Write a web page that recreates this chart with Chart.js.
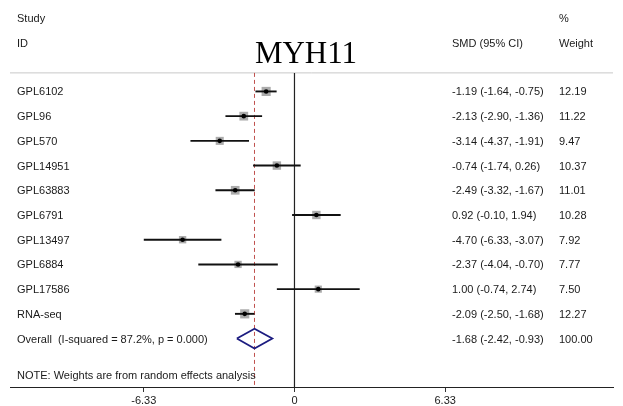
<!DOCTYPE html>
<html><head><meta charset="utf-8">
<script src="https://cdn.jsdelivr.net/npm/chart.js@4.4.0/dist/chart.umd.min.js"></script>
<style>html,body{margin:0;padding:0;background:#fff;} #wrap{width:623px;height:406px;position:relative;}</style>
</head><body><div id="wrap"><canvas id="c" width="623" height="406"></canvas></div>
<script>
// ---- data ----
const studies = ['GPL6102','GPL96','GPL570','GPL14951','GPL63883','GPL6791','GPL13497','GPL6884','GPL17586','RNA-seq'];
const smd     = [-1.19, -2.13, -3.14, -0.74, -2.49, 0.92, -4.70, -2.37, 1.00, -2.09];
const ciLower = [-1.64, -2.90, -4.37, -1.74, -3.32, -0.10, -6.33, -4.04, -0.74, -2.50];
const ciUpper = [-0.75, -1.36, -1.91, 0.26, -1.67, 1.94, -3.07, -0.70, 2.74, -1.68];
const weights = [12.19, 11.22, 9.47, 10.37, 11.01, 10.28, 7.92, 7.77, 7.50, 12.27];
const overallLabel = 'Overall  (I-squared = 87.2%, p = 0.000)';
const overallSMD = [-1.68];
const overallLower = [-2.42];
const overallUpper = [-0.93];
const overallWeight = [100.00];
const xTicks = [-6.33, 0, 6.33];
const xTickLabels = ['-6.33', '0', '6.33'];
const titleText = 'MYH11';
const headerLeft = ['Study', 'ID'];
const headerMid = ['', 'SMD (95% CI)'];
const headerRight = ['%', 'Weight'];
const noteText = 'NOTE: Weights are from random effects analysis';

// ---- layout (rows in y-scale units) ----
const Y_MIN = -3.70, Y_MAX = 11.96;
const X_MIN = -11.95, X_MAX = 13.38;
const ROW_HEADER = [-2.97, -1.98];
const ROW_SEP = -0.75;
const ROW_OVERALL = studies.length;
const ROW_NOTE = 11.48;
const FONT = '"Liberation Sans", Arial, sans-serif';
const TXT = '#1a1a1a';

const fmt = v => v.toFixed(2);

const datasets = [];
// center dots (top-most)
datasets.push({
  data: smd.map((v, i) => ({x: v, y: i})),
  pointStyle: 'circle', pointRadius: 2.3, pointBackgroundColor: '#000', pointBorderWidth: 0, showLine: false
});
// CI lines
studies.forEach((s, i) => {
  datasets.push({
    data: [{x: ciLower[i], y: i}, {x: ciUpper[i], y: i}],
    showLine: true, borderColor: '#111', borderWidth: 1.9, pointRadius: 0
  });
});
// weight squares
datasets.push({
  data: smd.map((v, i) => ({x: v, y: i})),
  pointStyle: 'rect', pointRadius: weights.map(w => 1.85 * Math.sqrt(w)),
  pointBackgroundColor: '#ababab', pointBorderWidth: 0, showLine: false
});
// overall diamond
datasets.push({
  data: [
    {x: overallLower[0], y: ROW_OVERALL},
    {x: overallSMD[0], y: ROW_OVERALL - 0.4},
    {x: overallUpper[0], y: ROW_OVERALL},
    {x: overallSMD[0], y: ROW_OVERALL + 0.4},
    {x: overallLower[0], y: ROW_OVERALL}
  ],
  showLine: true, borderColor: '#1c1c80', borderWidth: 1.8, pointRadius: 0
});
// overall dashed line
datasets.push({
  data: [{x: overallSMD[0], y: ROW_SEP}, {x: overallSMD[0], y: Y_MAX}],
  showLine: true, borderColor: '#c0504d', borderWidth: 1, borderDash: [4, 3], pointRadius: 0
});
// null line
datasets.push({
  data: [{x: 0, y: ROW_SEP}, {x: 0, y: Y_MAX}],
  showLine: true, borderColor: '#222', borderWidth: 1.2, pointRadius: 0
});
// header separator
datasets.push({
  data: [{x: X_MIN, y: ROW_SEP}, {x: X_MAX, y: ROW_SEP}],
  showLine: true, borderColor: '#c8c8c8', borderWidth: 1, pointRadius: 0
});

const textPlugin = {
  id: 'forestText',
  afterDraw(chart) {
    const ctx = chart.ctx, ys = chart.scales.y;
    const colL = 17, colM = 452, colR = 559, dy = 1;
    const py = r => ys.getPixelForValue(r) + dy;
    ctx.save();
    ctx.fillStyle = TXT;
    ctx.textBaseline = 'middle';
    ctx.textAlign = 'left';
    ctx.font = '11px ' + FONT;
    headerLeft.forEach((t, k) => ctx.fillText(t, colL, py(ROW_HEADER[k])));
    headerMid.forEach((t, k) => ctx.fillText(t, colM, py(ROW_HEADER[k])));
    headerRight.forEach((t, k) => ctx.fillText(t, colR, py(ROW_HEADER[k])));
    studies.forEach((s, i) => {
      const y = py(i);
      ctx.fillText(s, colL, y);
      ctx.fillText(fmt(smd[i]) + ' (' + fmt(ciLower[i]) + ', ' + fmt(ciUpper[i]) + ')', colM, y);
      ctx.fillText(fmt(weights[i]), colR, y);
    });
    const yo = py(ROW_OVERALL);
    ctx.fillText(overallLabel, colL, yo);
    ctx.fillText(fmt(overallSMD[0]) + ' (' + fmt(overallLower[0]) + ', ' + fmt(overallUpper[0]) + ')', colM, yo);
    ctx.fillText(fmt(overallWeight[0]), colR, yo);
    ctx.fillText(noteText, colL, py(ROW_NOTE));
    // title
    ctx.font = '31px "Liberation Serif", "Times New Roman", serif';
    ctx.textAlign = 'center';
    ctx.textBaseline = 'alphabetic';
    ctx.fillStyle = '#000';
    ctx.fillText(titleText, 306, 63);
    ctx.restore();
  }
};

new Chart(document.getElementById('c'), {
  type: 'scatter',
  data: {datasets},
  options: {
    responsive: false,
    devicePixelRatio: 1,
    animation: false,
    layout: {autoPadding: false, padding: {left: 10, right: 10, top: 0, bottom: 0}},
    plugins: {legend: {display: false}, tooltip: {enabled: false}},
    scales: {
      x: {
        type: 'linear', position: 'bottom', min: X_MIN, max: X_MAX,
        afterBuildTicks: s => { s.ticks = xTicks.map(v => ({value: v})); },
        afterFit: s => { s.height = 19; },
        grid: {drawOnChartArea: false, drawTicks: true, tickLength: 5, color: '#333'},
        border: {display: true, color: '#222', width: 1},
        ticks: {font: {family: FONT, size: 11, lineHeight: 1}, color: TXT, padding: 3,
          autoSkip: false, maxRotation: 0, callback: (v, i) => xTickLabels[i]}
      },
      y: {type: 'linear', min: Y_MIN, max: Y_MAX, reverse: true, display: false}
    }
  },
  plugins: [textPlugin]
});
</script>
</body></html>
